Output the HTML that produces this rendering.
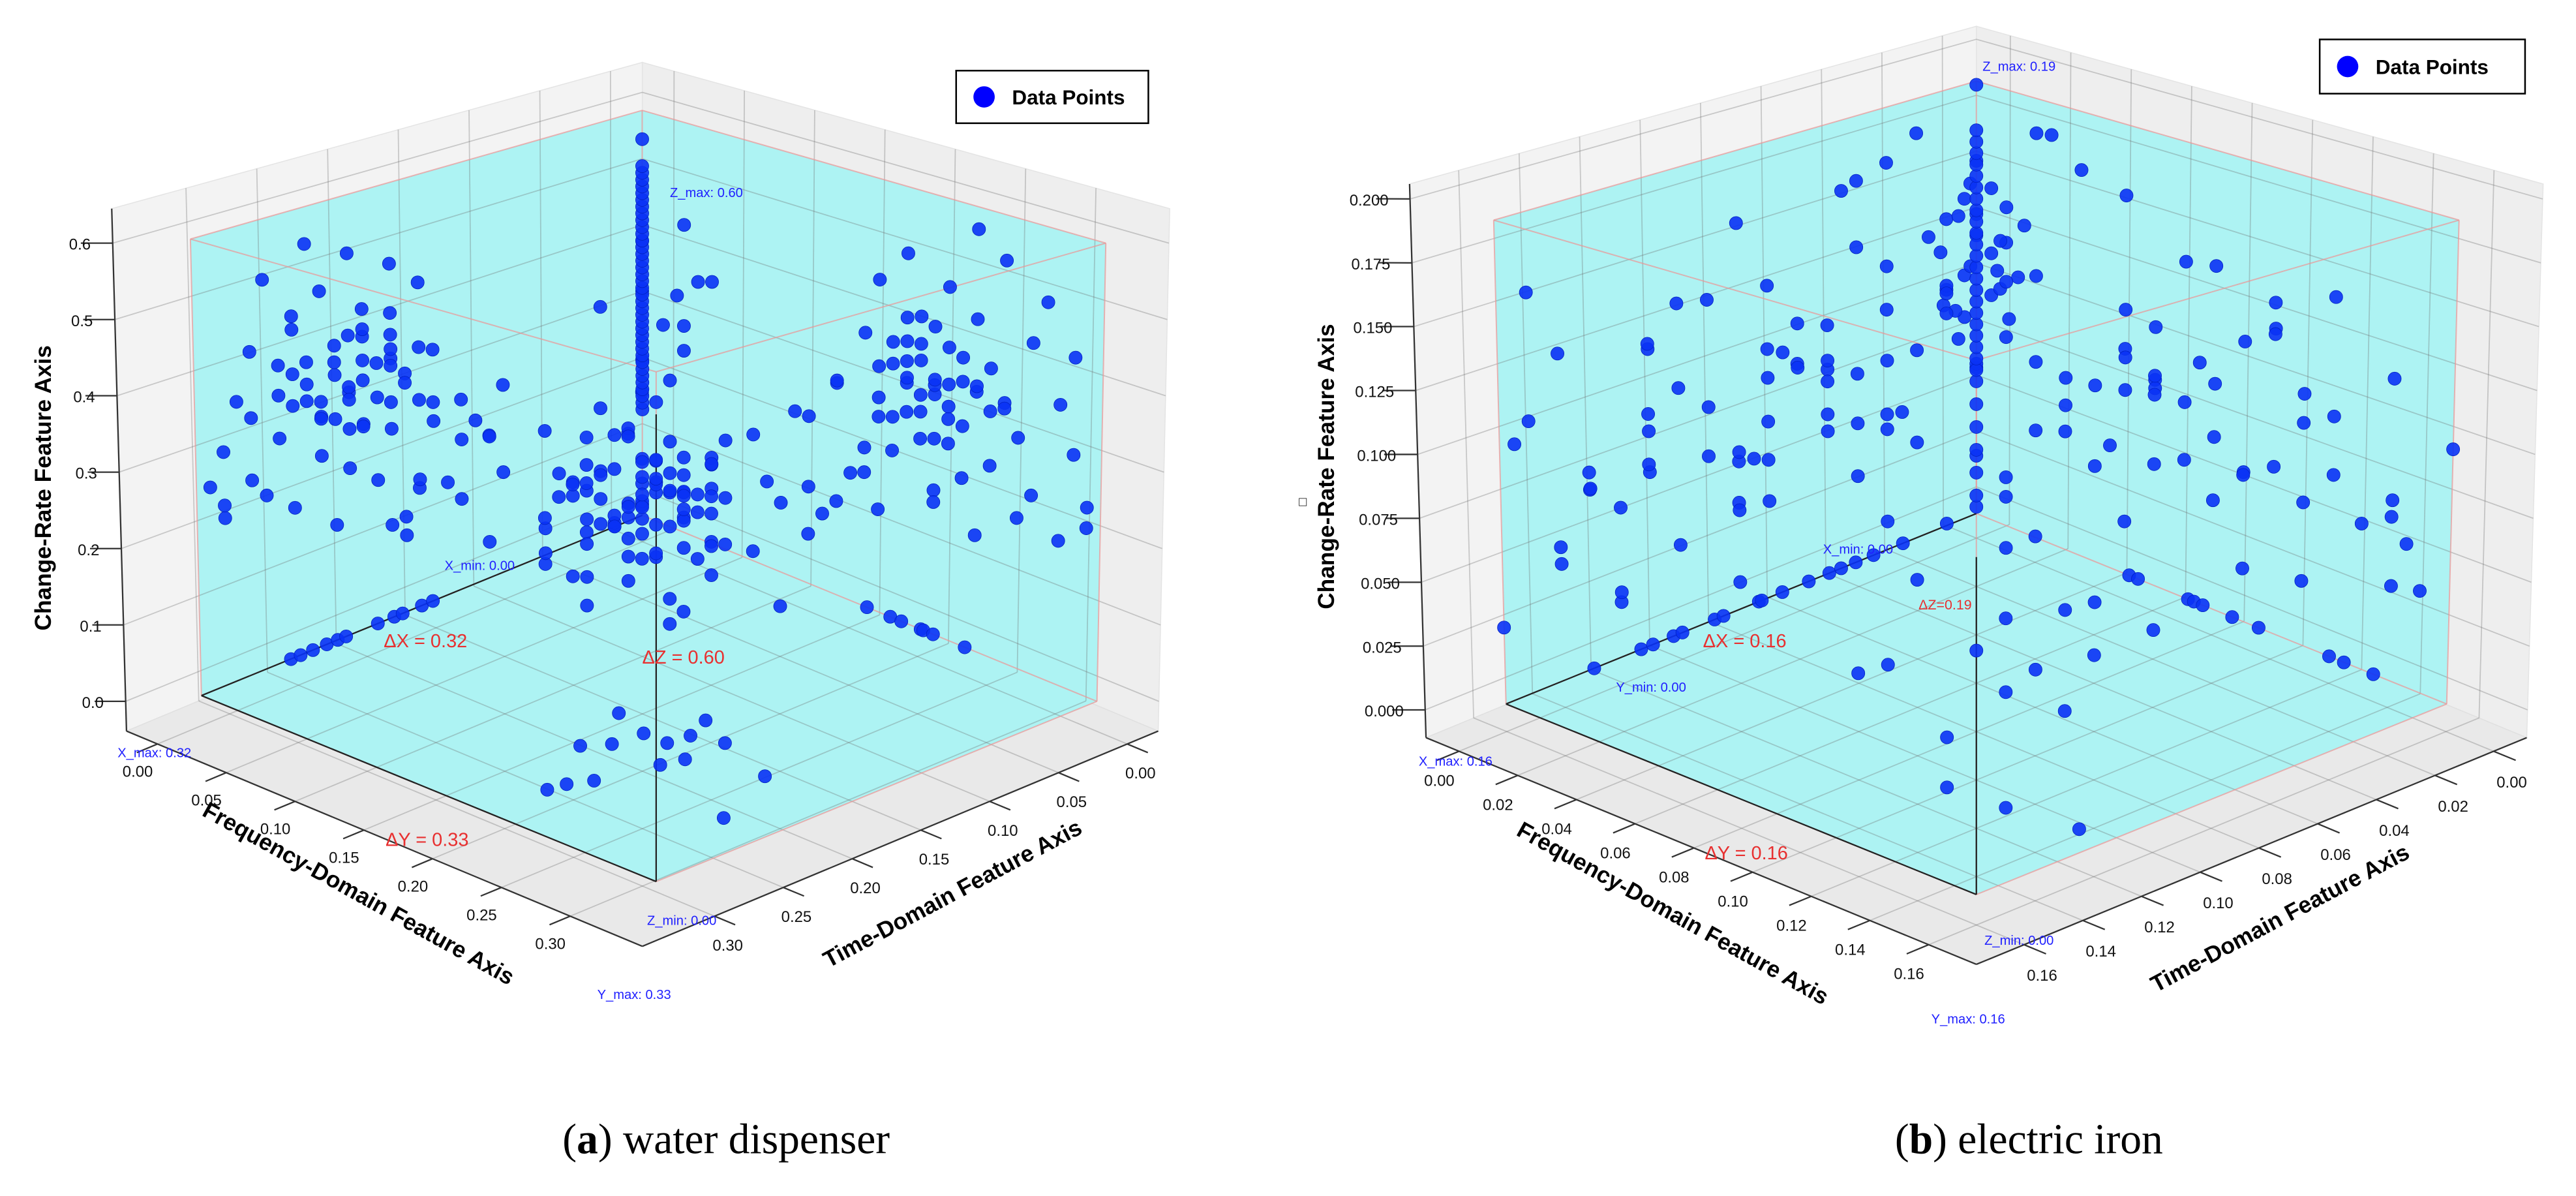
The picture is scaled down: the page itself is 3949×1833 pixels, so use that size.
<!DOCTYPE html>
<html><head><meta charset="utf-8"><style>
html,body{margin:0;padding:0;background:#fff;}
svg{display:block;}
text{font-family:"Liberation Sans",sans-serif;}
</style></head><body>
<svg id="fig" xmlns="http://www.w3.org/2000/svg" width="3949" height="1833" viewBox="0 0 1568 728" preserveAspectRatio="none">
<rect x="0" y="0" width="1568" height="728" fill="#fff"/>
<g id="pa"></g>
<g id="pb"></g>
<text x="442" y="702" text-anchor="middle" font-size="26" style="font-family:'Liberation Serif',serif">(<tspan font-weight="bold">a</tspan>) water dispenser</text>
<text x="1235" y="702" text-anchor="middle" font-size="26" style="font-family:'Liberation Serif',serif">(<tspan font-weight="bold">b</tspan>) electric iron</text>
</svg>
<script>
// ---------- Panel A data (time t, frequency f, change-rate z) ----------
const aTimeTicks=[0,0.05,0.10,0.15,0.20,0.25,0.30];
const aFreqTicks=[0,0.05,0.10,0.15,0.20,0.25,0.30];
const aZTicks=[0,0.1,0.2,0.3,0.4,0.5,0.6];
const aColumnZ=[0.16,0.17,0.18,0.19,0.20,0.21,0.22,0.23,0.24,0.25,0.26,0.27,0.28,0.29,0.30,0.31,0.32,0.33,0.34,0.35,0.36,0.37,0.38,0.39,0.40,0.41,0.42,0.43,0.44,0.45,0.46,0.47,0.48,0.49,0.50,0.51,0.52,0.56];
const aCenter=[[.08,.08,.17],[.06,.09,.15],[.09,.07,.19],[.07,.10,.13],[.10,.06,.16],[.05,.07,.20],[.11,.09,.14],[.08,.11,.18],[.04,.05,.12],[.12,.11,.12],
[.09,.05,.22],[.06,.12,.10],[.13,.07,.18],[.07,.04,.24],[.10,.12,.20],[.03,.08,.16],[.11,.04,.10],[.05,.11,.23],[.14,.10,.16],[.08,.13,.08],
[.02,.10,.21],[.12,.05,.25],[.06,.06,.27],[.15,.08,.11],[.09,.14,.14],[.04,.13,.18],[.13,.13,.21],[.03,.04,.22],[.10,.09,.26],[.16,.12,.09],
[.07,.15,.12],[.14,.04,.20],[.01,.06,.14],[.11,.14,.06],[.05,.03,.18],[.17,.06,.14],[.02,.14,.10],[.12,.15,.16],[.15,.14,.13],[.08,.02,.14],
[.16,.03,.17],[.03,.16,.15],[.10,.16,.22],[.13,.02,.23],[.06,.08,.30],[.09,.11,.04],[.12,.08,.07],[.04,.09,.06],[.17,.10,.20],[.01,.12,.25],
[.14,.16,.08],[.18,.13,.15],[.07,.17,.20],[.11,.01,.28],[.02,.02,.26],[.16,.16,.18],[.05,.15,.03],[.15,.11,.24],[.10,.03,.05],[.08,.06,.10],
[.07,.09,.16],[.09,.08,.13],[.06,.07,.18],[.10,.10,.17],[.08,.09,.21],[.07,.06,.12],[.09,.10,.09],[.11,.07,.21],[.05,.09,.14],[.08,.07,.24],
[.03,.15,.18],[.02,.16,.16],[.03,.18,.22],[.01,.17,.20],[.02,.19,.17],[.17,.03,.20],[.19,.02,.16],[.20,.04,.22],[.18,.01,.12],[.21,.03,.17],
[.005,.02,.30],[.005,.03,.35],[.02,.05,.33],[0,.05,.38],[.01,.04,.28],[.01,.01,.42],[.02,.02,.36],[0,.03,.45],[.03,0,.33],[.02,.06,.40]];
const aCore=[[.07,.08,.15],[.09,.09,.16],[.08,.07,.13],[.06,.08,.17],[.10,.08,.14],[.07,.10,.16],[.09,.06,.18],[.08,.09,.12],[.06,.06,.15],[.10,.10,.15],
[.05,.08,.16],[.11,.08,.17],[.08,.05,.16],[.08,.11,.14],[.07,.07,.19],[.09,.10,.19],[.06,.10,.13],[.10,.06,.12],[.07,.09,.11],[.09,.07,.11],
[.05,.06,.14],[.11,.10,.13],[.06,.11,.17],[.11,.06,.16],[.08,.08,.20],[.08,.08,.10],[.04,.07,.17],[.12,.09,.15],[.07,.12,.15],[.09,.04,.15],
[.05,.10,.19],[.12,.07,.19],[.10,.11,.11],[.04,.09,.13],[.13,.09,.13],[.06,.05,.20],[.09,.12,.17],[.11,.11,.18],[.05,.05,.11],[.07,.11,.08]];
const aLeftWall=[[.24,0,.55],[.28,.01,.53],[.21,0,.52],[.19,.01,.50],[.23,0,.48],[.26,.01,.47],[.16,0,.45],[.21,.01,.45],[.25,0,.44],[.29,.01,.44],
[.18,0,.42],[.22,.01,.42],[.20,0,.40],[.27,.01,.41],[.15,0,.35],[.24,0,.39],[.19,.01,.37],[.22,0,.36],[.30,.01,.38],[.17,0,.33],
[.25,.01,.35],[.21,0,.33],[.14,.01,.28],[.28,0,.34],[.19,.01,.31],[.23,0,.31],[.16,.01,.29],[.26,0,.30],[.31,.01,.32],[.12,0,.23],
[.20,0,.28],[.24,.01,.27],[.18,0,.26],[.29,.01,.27],[.15,0,.25],[.22,.01,.24],[.27,0,.23],[.32,.01,.28],[.13,0,.21],[.20,.01,.21],
[.25,0,.20],[.17,.01,.19],[.30,0,.22],[.23,.01,.17],[.11,0,.20],[.27,.01,.37],[.18,0,.39],[.21,.01,.29],[.16,0,.36],[.31,.01,.25]];
const aLeftCore=[[.20,0,.34],[.22,.01,.35],[.21,0,.32],[.19,.01,.36],[.23,0,.33],[.20,.01,.37],[.24,0,.36],[.18,.01,.33],[.22,0,.30],[.21,.01,.38],
[.19,0,.31],[.23,.01,.39],[.25,0,.38],[.17,.01,.30],[.20,0,.41],[.24,.01,.32],[.22,0,.40],[.18,0,.37],[.26,.01,.35],[.21,0,.28]];
const aRightWall=[[0,.24,.57],[.01,.27,.55],[0,.29,.50],[.01,.20,.52],[0,.22,.48],[.01,.25,.46],[0,.17,.46],[.01,.21,.44],[0,.28,.44],[.01,.32,.45],
[0,.19,.42],[.01,.23,.41],[0,.20,.39],[.01,.26,.40],[0,.16,.38],[.01,.24,.37],[0,.18,.35],[.01,.22,.34],[0,.30,.37],[.01,.15,.31],
[0,.25,.33],[.01,.21,.31],[0,.14,.30],[.01,.28,.32],[0,.19,.29],[.01,.23,.28],[0,.17,.27],[.01,.26,.27],[0,.31,.31],[.01,.13,.25],
[0,.20,.26],[.01,.24,.24],[0,.18,.23],[.01,.29,.25],[0,.16,.22],[.01,.22,.21],[0,.27,.20],[.01,.33,.26],[0,.21,.18],[.01,.25,.17],
[0,.30,.19],[.01,.23,.36],[0,.19,.33],[.01,.27,.36],[0,.32,.22]];
const aRightCore=[[0,.21,.34],[.01,.22,.36],[0,.20,.32],[.01,.23,.33],[0,.19,.36],[.01,.21,.38],[0,.24,.35],[.01,.18,.31],[0,.22,.30],[.01,.20,.40],
[0,.23,.39],[.01,.25,.37],[0,.17,.34],[.01,.24,.31],[0,.21,.42],[.01,.19,.29],[0,.26,.34],[.01,.22,.28],[0,.18,.38],[.01,.20,.35]];
const aFloor=[[.184,.167,0],[.227,.182,0],[.214,.192,0],[.193,.194,0],[.193,.211,0],[.178,.213,0],[.159,.205,0],[.172,.232,0],
[.201,.232,0],[.215,.228,0],[.187,.276,0],[.253,.218,0],[.266,.211,0],[.278,.209,0],[.239,.298,0]];
const aLineT=[.255,.248,.239,.229,.221,.215,.192,.18,.174,.16,.152];
const aLineF=[.163,.18,.188,.202,.204,.211,.234];

// ---------- Panel B data ----------
const bTimeTicks=[0,0.02,0.04,0.06,0.08,0.10,0.12,0.14,0.16];
const bFreqTicks=[0,0.02,0.04,0.06,0.08,0.10,0.12,0.14,0.16];
const bZTicks=[0,0.025,0.05,0.075,0.1,0.125,0.15,0.175,0.2];
const bColumnZ=[0.005,0.01,0.02,0.03,0.04,0.05,0.06,0.065,0.07,0.075,0.08,0.085,0.09,0.095,0.10,0.105,0.11,0.115,0.12,0.125,0.13,0.135,0.14,0.145,0.15,0.155,0.16,0.165,0.17,0.19];
const bNearColumn=[[.006,.002,.09],[.002,.007,.1],[.008,.004,.11],[.004,.009,.12],[.01,.003,.095],[.003,.011,.105],[.012,.006,.085],[.006,.013,.115],[.009,.009,.13],
[.02,0,.175],[.035,.005,.17],[.045,0,.16],[0,.02,.175],[.005,.03,.18],[0,.035,.165],[.03,.02,.15],[.02,.03,.155],
[.02,.03,.14],[.03,.02,.12],[.04,.04,.10],[.02,.05,.08],[.05,.02,.07],[.03,.04,.05],[.04,.03,.13],[.05,.05,.11],[.01,.04,.06],[.04,.01,.09],[.03,.05,.03],[.05,.04,.04],[.02,.02,.045],[.06,.03,.085],[.03,.06,.10]];
const bCore=[[.004,0,.14],[0,.005,.145],[.008,.002,.135],[.002,.01,.125],[.012,0,.12],[0,.014,.11],[.015,.004,.10],[.005,.016,.095],[.01,.01,.14],[0,0,.155],
[.018,.002,.13],[.002,.018,.135],[.014,.012,.12],[.007,.005,.15],[.02,.01,.11],[.01,.02,.115],
[.06,.01,.095],[.07,.02,.085],[.05,0,.09],[.08,.01,.082],[.065,0,.1],[.09,.01,.07],[.045,.02,.075],[.075,0,.06],
[.01,.07,.095],[.02,.08,.1],[0,.06,.088],[.01,.09,.08],[0,.075,.1],[.02,.065,.07]];
const bLeftWing=[[.05,.01,.17],[.08,0,.16],[.12,.02,.15],[.06,.02,.15],[.10,.01,.14],[.14,0,.13],[.04,.01,.13],[.07,0,.13],[.09,.02,.12],[.11,0,.12],
[.13,.02,.11],[.16,.01,.115],[.03,.02,.11],[.05,0,.105],[.08,.01,.10],[.10,0,.10],[.12,.01,.095],[.15,.02,.095],[.06,.01,.09],[.09,0,.088],
[.11,.02,.085],[.14,.01,.08],[.04,0,.08],[.07,.02,.078],[.13,0,.072],[.16,.02,.07],[.05,.01,.068],[.08,0,.065],[.10,.02,.062],[.12,0,.06],
[.15,.01,.055],[.06,.02,.055],[.09,.01,.05],[.11,.01,.045],[.14,.02,.04],[.07,0,.04],[.13,.01,.035],[.16,0,.03],[.10,.02,.03],[.05,.02,.12],
[.08,.02,.11],[.12,.01,.13],[.07,.01,.10],[.09,.02,.075],[.11,0,.07],[.06,0,.11],[.13,.02,.09],[.155,0,.10],[.03,.01,.09],[.04,.02,.06],[.15,0,.158]];
const bRightWing=[[0,.05,.16],[.01,.09,.15],[.02,.12,.14],[0,.07,.14],[.01,.11,.13],[0,.14,.12],[.02,.04,.13],[.01,.06,.12],[0,.09,.115],[.02,.10,.11],
[.01,.13,.105],[0,.16,.10],[.02,.03,.10],[0,.05,.095],[.01,.08,.09],[0,.11,.09],[.02,.12,.085],[.01,.15,.08],[0,.06,.08],[.02,.09,.075],
[.01,.10,.07],[0,.14,.065],[.02,.04,.065],[.01,.07,.06],[0,.13,.058],[.02,.16,.055],[.01,.05,.05],[0,.08,.045],[.02,.11,.04],[.01,.12,.035],
[0,.15,.04],[.01,.06,.10],[.02,.08,.125],[0,.10,.135],[.01,.12,.11],[0,.09,.06],[.02,.14,.09],[.01,.155,.065],[0,.04,.075],[.02,.13,.075],
[.01,.03,.085],[0,.12,.145],[.02,.07,.095]];
const bLow=[[.04,.05,.03],[.06,.07,.02],[.08,.06,.04],[.05,.09,.01],[.09,.09,.03],[.07,.04,.05],[.10,.07,.02],[.06,.10,.04],[.11,.10,.01],[.08,.11,.05],
[.03,.08,.05],[.12,.08,.03],[.05,.06,.06],[.09,.12,.02],[.07,.08,0],[.10,.12,.04],[.04,.10,.02],[.12,.11,0],[.115,.15,0],[.13,.14,.01]];
const bLineT=[.130,.114,.110,.103,.100,.089,.086,.074,.073,.066,.057,.050,.046,.041,.035,.025];
const bLineF=[.052,.055,.072,.074,.077,.087,.096,.120,.125,.135];

const NS='http://www.w3.org/2000/svg';
function mk(parent,tag,attrs,txt){const e=document.createElementNS(NS,tag);for(const k in attrs)e.setAttribute(k,attrs[k]);if(txt!==undefined)e.textContent=txt;parent.appendChild(e);return e;}

function makeProj(C){
  function bil(q0,ql,qr,qf,a,b){return [0,1].map(i=>q0[i]+a*(ql[i]-q0[i])+b*(qr[i]-q0[i])+a*b*(qf[i]-ql[i]-qr[i]+q0[i]));}
  return function(a,b,c){const B=bil(C.b0,C.bl,C.br,C.bf,a,b),T=bil(C.t0,C.tl,C.tr,C.tf,a,b);return [B[0]+c*(T[0]-B[0]),B[1]+c*(T[1]-B[1])];};
}

function drawPanel(g,cfg){
  const P=makeProj(cfg.C);
  const gt=t=>cfg.m+(1-2*cfg.m)*t/cfg.R, gf=f=>cfg.m+(1-2*cfg.m)*f/cfg.R, gz=z=>cfg.mz+cfg.kz*z;
  const D=(t,f,z)=>P(gt(t),gf(f),gz(z));
  const pts=a=>a.map(p=>p[0].toFixed(1)+','+p[1].toFixed(1)).join(' ');
  let e;
  e=mk(g,'polygon',{points:pts([P(0,0,0),P(1,0,0),P(1,0,1),P(0,0,1)]),fill:'#f3f3f3',stroke:'#e4e4e4','stroke-width':0.6});
  
  e=mk(g,'polygon',{points:pts([P(0,0,0),P(0,1,0),P(0,1,1),P(0,0,1)]),fill:'#eeeeee',stroke:'#e4e4e4','stroke-width':0.6});
  
  e=mk(g,'polygon',{points:pts([P(0,0,0),P(1,0,0),P(1,1,0),P(0,1,0)]),fill:'#e9e9e9',stroke:'#e0e0e0','stroke-width':0.6});
  
  const T=cfg.Tmax,F=cfg.Fmax,Z=cfg.Zmax;
  e=mk(g,'polygon',{points:pts([D(T,0,0),D(T,F,0),D(0,F,0),D(0,F,Z),D(0,0,Z),D(T,0,Z)]),fill:'#adf3f3'});
  
  const gridG=mk(g,'g',{stroke:'rgba(110,110,110,0.33)','stroke-width':0.7,fill:'none'});
  
  const ln=(par,p,q)=>mk(par,'line',{x1:p[0].toFixed(1),y1:p[1].toFixed(1),x2:q[0].toFixed(1),y2:q[1].toFixed(1)});
  cfg.tTicks.forEach(v=>{ln(gridG,P(gt(v),0,0),P(gt(v),0,1));ln(gridG,P(gt(v),0,0),P(gt(v),1,0));});
  cfg.fTicks.forEach(v=>{ln(gridG,P(0,gf(v),0),P(0,gf(v),1));ln(gridG,P(0,gf(v),0),P(1,gf(v),0));});
  cfg.zTicks.forEach(v=>{ln(gridG,P(0,0,gz(v)),P(1,0,gz(v)));ln(gridG,P(0,0,gz(v)),P(0,1,gz(v)));});
  const eg=mk(g,'g',{stroke:'rgba(235,150,150,0.7)','stroke-width':0.8,fill:'none'});
  
  const cs=[[0,0],[T,0],[T,F],[0,F]];
  for(let i=0;i<4;i++){const a=cs[i],b=cs[(i+1)%4];ln(eg,D(a[0],a[1],0),D(b[0],b[1],0));ln(eg,D(a[0],a[1],Z),D(b[0],b[1],Z));ln(eg,D(a[0],a[1],0),D(a[0],a[1],Z));}
  const ax=mk(g,'g',{stroke:'#333','stroke-width':0.9,fill:'none'});
  
  ln(ax,P(1,0,0),P(1,0,1));ln(ax,P(1,0,0),P(1,1,0));ln(ax,P(1,1,0),P(0,1,0));
  const lab=mk(g,'g',{fill:'#111','font-size':cfg.tickFs,'text-anchor':'middle'});
  
  cfg.fTicks.forEach(v=>{const p=P(1,gf(v),0);ln(ax,p,P(1.04,gf(v),0));const t=mk(lab,'text',{x:(p[0]+cfg.fOff[0]).toFixed(1),y:(p[1]+cfg.fOff[1]).toFixed(1)},v.toFixed(2));});
  cfg.tTicks.forEach(v=>{const p=P(gt(v),1,0);ln(ax,p,P(gt(v),1.04,0));const t=mk(lab,'text',{x:(p[0]+cfg.tOff[0]).toFixed(1),y:(p[1]+cfg.tOff[1]).toFixed(1)},v.toFixed(2));});
  cfg.zTicks.forEach(v=>{const p=P(1,0,gz(v));ln(ax,p,P(1.03,-0.03,gz(v)));const t=mk(lab,'text',{x:(p[0]+cfg.zOff[0]).toFixed(1),y:(p[1]+cfg.zOff[1]).toFixed(1)},v.toFixed(cfg.zDec));});
  const bl=mk(g,'g',{stroke:'#222','stroke-width':0.9});
  
  ln(bl,D(T,0,0),D(T,F,0));ln(bl,D(T,F,0),D(T,F,cfg.vLineZ));ln(bl,D(T,0,0),D(0,0,0));
  const dg=mk(g,'g',{fill:'#0a32f5','fill-opacity':0.9,stroke:'#0020c0','stroke-width':0.3});
  
  const dot=(t,f,z)=>{const p=D(t,f,z);const c=mk(dg,'circle',{cx:p[0].toFixed(1),cy:p[1].toFixed(1),r:4});
    
    };
  cfg.groups.forEach(gr=>gr.forEach(p=>dot(p[0],p[1],p[2])));
  cfg.colZ.forEach(z=>dot(0.002,0.002,z));
  cfg.lineT.forEach(t=>dot(t,0,0));
  cfg.lineF.forEach(f=>dot(0,f,0));
  cfg.notes.forEach(n=>{const t=mk(g,'text',{x:n[1],y:n[2],fill:n[3],'font-size':n[4],'text-anchor':'middle'},n[0]);
    });
  cfg.titles.forEach(n=>{const t=mk(g,'text',{x:0,y:0,'font-size':14,'font-weight':'bold','text-anchor':'middle',fill:'#000',transform:`translate(${n[1]},${n[2]}) rotate(${n[3]})`},n[0]);
    });
  const L=cfg.legend;
  const lg=mk(g,'g',{});
  
  mk(lg,'rect',{x:L[0],y:L[1],width:L[2],height:L[3],fill:'#fff',stroke:'#000','stroke-width':1});
  mk(lg,'circle',{cx:L[0]+17,cy:L[1]+L[3]/2,r:6.5,fill:'#0000ff'});
  mk(lg,'text',{x:L[0]+34,y:L[1]+L[3]/2+4.5,'font-size':12.5,'font-weight':'bold',fill:'#000'},'Data Points');
}

drawPanel(document.getElementById('pa'),{
  C:{b0:[391,314],bl:[77,445],br:[705,445],bf:[391,576],t0:[391,38],tl:[68,127],tr:[712,127],tf:[391,216]},
  m:0.06,R:0.33,mz:0.057,kz:0.877/0.6,Tmax:0.32,Fmax:0.33,Zmax:0.6,vLineZ:0.55,
  tTicks:aTimeTicks,fTicks:aFreqTicks,zTicks:aZTicks,zDec:1,tickFs:9.5,
  fOff:[-12,20],tOff:[8,21],zOff:[-20,4],
  groups:[aCenter,aCore,aLeftWall,aLeftCore,aRightWall,aRightCore,aFloor],colZ:aColumnZ,lineT:aLineT,lineF:aLineF,
  notes:[['Z_max: 0.60',430,120,'#2020ff',8],['X_min: 0.00',292,347,'#2020ff',8],['X_max: 0.32',94,461,'#2020ff',8],
         ['Z_min: 0.00',415,563,'#2020ff',8],['Y_max: 0.33',386,608,'#2020ff',8],
         ['\u0394X = 0.32',259,394,'#e83030',11.5],['\u0394Z = 0.60',416,404,'#e83030',11.5],['\u0394Y = 0.33',260,515,'#e83030',11.5]],
  titles:[['Change-Rate Feature Axis',31,297,-90],['Frequency-Domain Feature Axis',216,548,29],['Time-Domain Feature Axis',582,548,-28]],
  legend:[582,43,117,32]
});
drawPanel(document.getElementById('pb'),{
  C:{b0:[1203,311],bl:[868,449],br:[1538,449],bf:[1203,587],t0:[1203,16],tl:[858,112],tr:[1548,112],tf:[1203,209]},
  m:0.06,R:0.165,mz:0.05,kz:0.9/0.195,Tmax:0.16,Fmax:0.16,Zmax:0.19,vLineZ:0.12,
  tTicks:bTimeTicks,fTicks:bFreqTicks,zTicks:bZTicks,zDec:3,tickFs:9.5,
  fOff:[-12,21],tOff:[11,22],zOff:[-25,4],
  groups:[bNearColumn,bCore,bLeftWing,bRightWing,bLow],colZ:bColumnZ,lineT:bLineT,lineF:bLineF,
  notes:[['Z_max: 0.19',1229,43,'#2020ff',8],['X_min: 0.00',1131,337,'#2020ff',8],['Y_min: 0.00',1005,421,'#2020ff',8],
         ['X_max: 0.16',886,466,'#2020ff',8],['Z_min: 0.00',1229,575,'#2020ff',8],['Y_max: 0.16',1198,623,'#2020ff',8],
         ['\u0394X = 0.16',1062,394,'#e83030',11.5],['\u0394Y = 0.16',1063,523,'#e83030',11.5],['\u0394Z=0.19',1184,371,'#e83030',8.5],['\u25A1',793,308,'#000',8]],
  titles:[['Change-Rate Feature Axis',812,284,-90],['Frequency-Domain Feature Axis',1016,560,29],['Time-Domain Feature Axis',1390,563,-28]],
  legend:[1412,24,125,33]
});
</script>
</body></html>
